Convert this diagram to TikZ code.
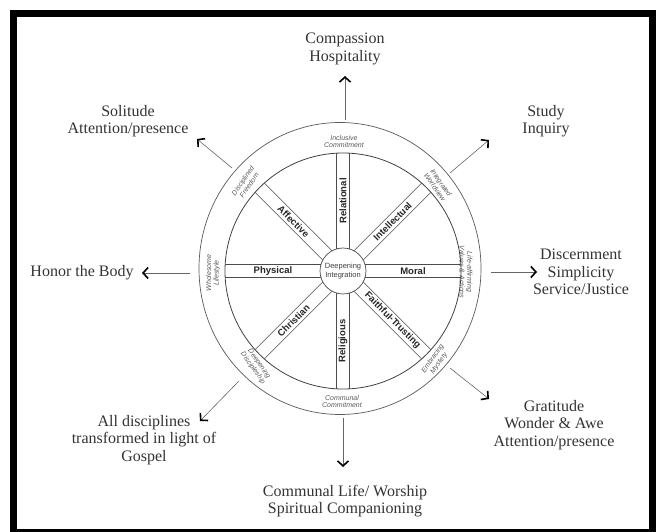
\documentclass[tikz,border=0pt]{standalone}
\usepackage{fontspec}
\setmainfont{Liberation Serif}
\setsansfont{Liberation Sans}
\usetikzlibrary{arrows.meta,calc}

\tikzset{
  goal/.style = {align=center, font=\fontsize{16}{17.5}\selectfont, text=black!80},
  ring/.style = {draw=black!65, line width=0.7pt},
  spoke/.style = {draw=black!70, line width=0.6pt},
  spokename/.style = {font=\sffamily\bfseries\fontsize{9.5}{10}\selectfont, text=black!85},
  ringname/.style = {align=center, font=\sffamily\itshape\fontsize{7}{7.6}\selectfont, text=black!65},
  outarrow/.style = {draw=black!60, line width=0.6pt,
    -{Straight Barb[length=5pt, width=11pt, line width=1.6pt, color=black]}},
}

\begin{document}
\begin{tikzpicture}[x = 1pt, y = 1pt]
          \useasboundingbox (0, 0) rectangle (657, 531);
          \draw[line width = 7pt] (13.5, -1) rectangle (652.5, 517.5);
          \coordinate (c) at (343, 260);
          \draw[ring] (340, 262.5) ellipse [x radius = 141, y radius = 146];
          \draw[ring, draw = black!75, line width = 0.8pt] (c) circle [radius = 118];
          \foreach \a in {0, 45, ..., 315}
            \draw[spoke, shift = {(c)}, rotate = \a] (22.1, 6.5) -- (117.8, 6.5) (22.1, -6.5) -- (117.8, -6.5);
          \node[circle, draw = black!70, line width = 0.7pt, fill = white, minimum size = 46pt, inner sep = 0pt, align = center,
                font = \sffamily\fontsize{7.5}{8.5}\selectfont, text = black!75] (hub) at (c) {Deepening\\Integration};
          \foreach \a/\r/\t in {0/0/Moral, 45/45/Intellectual, 90/90/Relational, 135/-45/Affective,
                                180/0/Physical, 225/45/Christian, 270/90/Religious, 315/-45/Faithful-Trusting}
            \node[spokename, rotate = \r] (s\a) at ($(c) + (\a:70)$) {\t};
          \node[ringname] (inclusive) at (344, 389.5) {Inclusive\\Commitment};
          \node[ringname] (communalring) at (342, 129.5) {Communal\\Commitment};
          \node[ringname, rotate = 55] (freedom) at (246, 348) {Disciplined\\Freedom};
          \node[ringname, rotate = 90] (wholesome) at (213, 258) {Wholesome\\Lifestyle};
          \node[ringname, rotate = -55] (discipleship) at (256, 165) {Deepening\\Discipleship};
          \node[ringname, rotate = -55] (worldview) at (438, 346) {Integrated\\Worldview};
          \node[ringname, rotate = -90] (values) at (466, 259) {Life-affirming\\Values \& Actions};
          \node[ringname, rotate = 55] (mystery) at (436, 170) {Embracing\\Mystery};
          \node[goal] (compassion) at (345, 482) {Compassion\\Hospitality};
          \node[goal] (solitude) at (128, 410) {Solitude\\Attention/presence};
          \node[goal] (study) at (546, 410) {Study\\Inquiry};
          \node[goal] (discern) at (581, 259) {Discernment\\Simplicity\\Service/Justice};
          \node[goal] (honor) at (82, 258) {Honor the Body};
          \node[goal] (disciplines) at (144, 91) {All disciplines\\transformed in light of\\Gospel};
          \node[goal] (communal) at (345, 30) {Communal Life/ Worship\\Spiritual Companioning};
          \node[goal] (gratitude) at (554, 106) {Gratitude\\Wonder \& Awe\\Attention/presence};
          \coordinate (n0) at (345, 411);   \coordinate (n1) at (345, 455);
          \coordinate (nw0) at (232, 363);  \coordinate (nw1) at (197, 392);
          \coordinate (ne0) at (450, 358);  \coordinate (ne1) at (489, 391);
          \coordinate (e0) at (491, 259);   \coordinate (e1) at (537, 259);
          \coordinate (w0) at (190, 258);   \coordinate (w1) at (142, 258);
          \coordinate (sw0) at (239, 150);  \coordinate (sw1) at (200, 110);
          \coordinate (s0) at (343, 113);   \coordinate (s1) at (343, 64);
          \coordinate (se0) at (450, 163);  \coordinate (se1) at (489, 132);
          \foreach \d in {n, nw, ne, e, w, sw, s, se}
            \draw[outarrow] (\d0) -- (\d1);
        \end{tikzpicture}
\end{document}
